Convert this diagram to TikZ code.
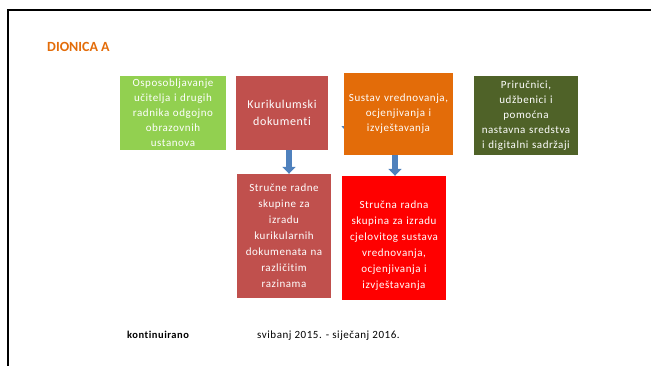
\documentclass[tikz,border=0pt]{standalone}
\usepackage{fontspec}
\setmainfont{Carlito}[Ligatures=NoCommon]
\newfontfamily\razmak{Carlito}[LetterSpace=5,Ligatures=NoCommon]
\usetikzlibrary{arrows.meta}
\definecolor{zelena}{HTML}{92D050}
\definecolor{tamnozelena}{HTML}{4F6228}
\definecolor{crvena}{HTML}{C0504D}
\definecolor{narancasta}{HTML}{E36C09}
\definecolor{plava}{HTML}{4F81BD}
\begin{document}
\begin{tikzpicture}[x=1pt, y=-1pt, line cap=butt, line join=miter, font=\razmak\fontsize{11}{15}\selectfont, >=Triangle]
			\tikzset{kutija/.style={text=white, align=center, inner sep=2pt},
				strelica/.style={draw=plava, line width=6pt, -{Triangle[width=13pt,length=7pt]}}}
			\useasboundingbox (0,0) rectangle (651,365);
			\draw[line width=2pt] (7.5,366) |- (652,9.5);
			\node[anchor=base west, inner sep=0pt, text=narancasta, font=\fontsize{14}{16}\selectfont\bfseries] (naslov) at (47,51) {DIONICA A};
			% skrivena strelica iza narancaste kutije
			\coordinate (s1) at (348,105);
			\coordinate (s2) at (348,133);
			\draw[strelica] (s1) -- (s2);
			% gornji red
			\node[kutija, fill=zelena, minimum width=106pt, minimum height=74pt, text width=102pt] (osp) at (173,113) {Osposobljavanje\\učitelja i drugih\\radnika odgojno\\obrazovnih\\ustanova};
			\node[kutija, fill=crvena, minimum width=92pt, minimum height=74pt, text width=88pt, font=\razmak\fontsize{12}{17}\selectfont] (kur) at (282,113) {Kurikulumski\\dokumenti};
			\node[kutija, fill=narancasta, minimum width=109pt, minimum height=82pt, text width=105pt] (sus) at (398.5,114) {Sustav vrednovanja,\\ocjenjivanja i\\izvještavanja};
			\node[kutija, fill=tamnozelena, minimum width=104pt, minimum height=79pt, text width=100pt] (pri) at (526,115.5) {Priručnici,\\udžbenici i\\pomoćna\\nastavna sredstva\\i digitalni sadržaji};
			% donji red
			\node[kutija, fill=crvena, minimum width=94pt, minimum height=124pt, text width=90pt, font=\razmak\fontsize{11}{16}\selectfont] (skup) at (284,236) {Stručne radne\\skupine za\\izradu\\kurikularnih\\dokumenata na\\različitim\\razinama};
			\node[kutija, fill=red, minimum width=104pt, minimum height=124pt, text width=100pt, font=\razmak\fontsize{11}{16}\selectfont] (crv) at (394,238) {\\[6pt]Stručna radna\\skupina za izradu\\cjelovitog sustava\\vrednovanja,\\ocjenjivanja i\\izvještavanja};
			\draw[strelica] ([xshift=7pt]kur.south) -- ([xshift=5pt]skup.north);
			\draw[strelica] ([xshift=-3.5pt]sus.south) -- ([xshift=1pt]crv.north);
			% rokovi
			\node[anchor=base west, inner sep=0pt, font=\razmak\fontsize{10.5}{12}\selectfont\bfseries] (kon) at (127,338) {kontinuirano};
			\node[anchor=base west, inner sep=0pt, font=\razmak\fontsize{11}{12}\selectfont] (rok) at (257,338) {svibanj 2015. - siječanj 2016.};
		\end{tikzpicture}
\end{document}
